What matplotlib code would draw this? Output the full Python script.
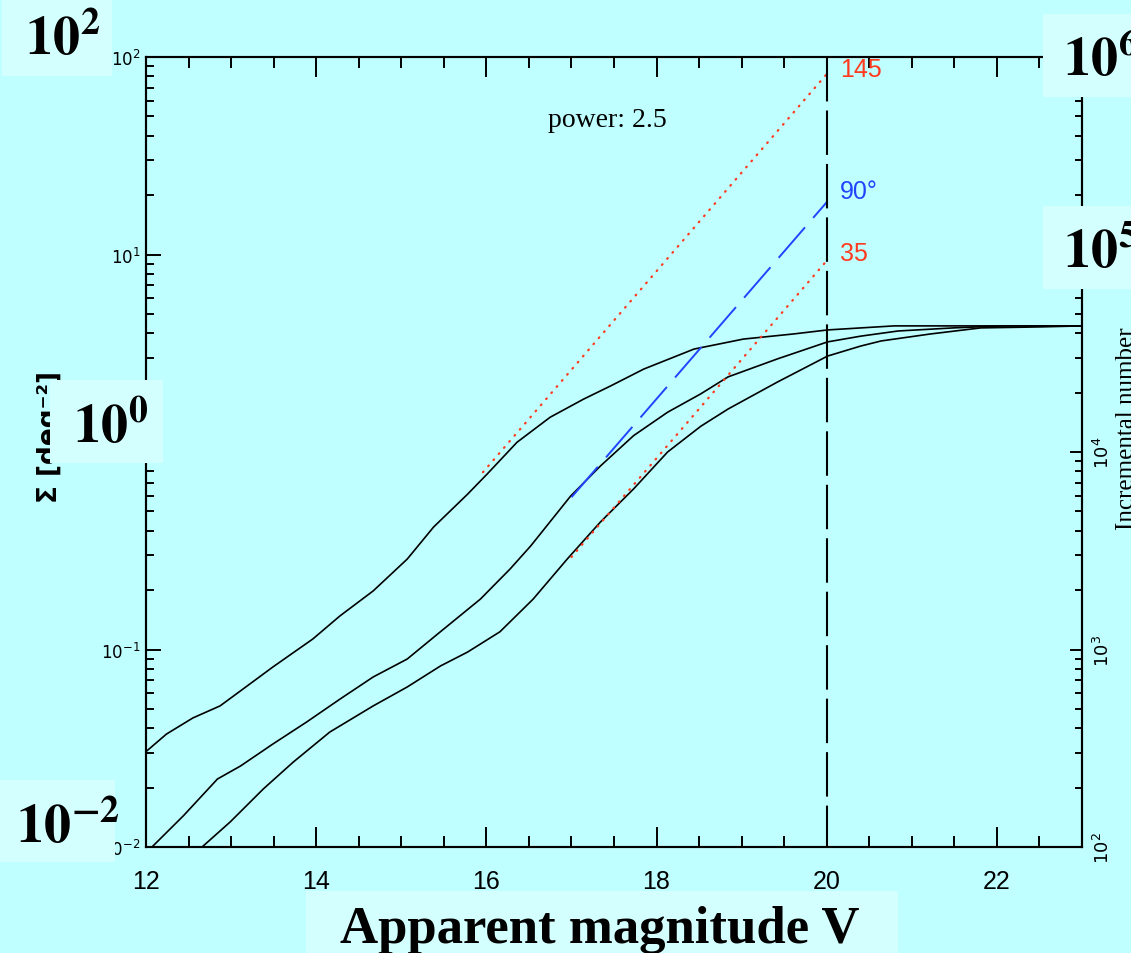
import matplotlib
matplotlib.use('Agg')
import matplotlib.pyplot as plt
from matplotlib.patches import Rectangle
from matplotlib.ticker import MultipleLocator, LogLocator, NullFormatter

# surface density curves (magnitude V, Sigma in deg^-2)
mag_a = [12.0, 12.24, 12.55, 12.87, 13.11, 13.49, 13.96, 14.28, 14.67, 15.07, 15.38, 15.78,
         16.01, 16.36, 16.75, 17.14, 17.46, 17.85, 18.44, 19.02, 19.61, 20.01, 20.79, 23.0]
sig_a = [0.0304, 0.0373, 0.0450, 0.0518, 0.0617, 0.0815, 0.113, 0.148, 0.198, 0.287, 0.417, 0.612,
         0.774, 1.12, 1.50, 1.85, 2.16, 2.63, 3.32, 3.73, 3.96, 4.15, 4.35, 4.35]

mag_b = [12.08, 12.44, 12.84, 13.11, 13.49, 13.89, 14.28, 14.67, 15.07, 15.46, 15.93, 16.28, 16.52,
         16.99, 17.34, 17.73, 18.13, 18.52, 18.84, 19.42, 20.01, 20.40, 20.84, 21.49, 22.05, 23.0]
sig_b = [0.0101, 0.0144, 0.0221, 0.0257, 0.0332, 0.0430, 0.0561, 0.0726, 0.0895, 0.123, 0.180, 0.256, 0.334,
         0.598, 0.849, 1.21, 1.59, 1.97, 2.40, 2.96, 3.61, 3.86, 4.10, 4.25, 4.35, 4.35]

mag_c = [12.67, 12.99, 13.38, 13.73, 14.16, 14.67, 15.07, 15.46, 15.78, 16.16, 16.55, 16.95, 17.34,
         17.73, 18.13, 18.52, 18.84, 19.42, 20.01, 20.40, 20.64, 21.22, 21.81, 22.52, 23.0]
sig_c = [0.0101, 0.0134, 0.0197, 0.0269, 0.0382, 0.0518, 0.0646, 0.0825, 0.0971, 0.123, 0.180, 0.287, 0.442,
         0.650, 1.0, 1.35, 1.65, 2.26, 3.06, 3.44, 3.65, 3.96, 4.25, 4.30, 4.35]

# power-law extrapolations
mag_145 = [15.96, 20.0]
sig_145 = [0.79, 82.0]
mag_90 = [17.0, 20.0]
sig_90 = [0.59, 18.4]
mag_35 = [17.0, 20.0]
sig_35 = [0.294, 9.3]

mag_limit = 20.0
xticks = [12, 14, 16, 18, 20, 22]

W, H = 1131, 954
bg = '#c0ffff'
boxc = '#d4ffff'
red = '#ff3a1e'
blue = '#2244ff'

plt.rcParams['lines.scale_dashes'] = False
plt.rcParams['mathtext.fontset'] = 'dejavusans'

fig = plt.figure(figsize=(W / 100, H / 100), dpi=100, facecolor=bg)
ax = fig.add_axes([146 / W, 1 - 848 / H, (1082 - 146) / W, (848 - 58) / H])
ax.set_facecolor(bg)

def fx(x):
    return x / W

def fy(y):
    return 1 - y / H

ax.plot(mag_a, sig_a, color='black', lw=1.2, solid_joinstyle='round')
ax.plot(mag_b, sig_b, color='black', lw=1.2, solid_joinstyle='round')
ax.plot(mag_c, sig_c, color='black', lw=1.2, solid_joinstyle='round')

ax.plot(mag_145, sig_145, color=red, lw=1.6, dashes=(0.6, 5.2), dash_capstyle='round')
ax.plot(mag_35, sig_35, color=red, lw=1.6, dashes=(0.6, 5.2), dash_capstyle='round')
ax.plot(mag_90, sig_90, color=blue, lw=1.4, dashes=(29, 9))
ax.plot([mag_limit, mag_limit], [100, 0.01], color='black', lw=1.5, dashes=(32, 6.5))

ax.set_yscale('log')
ax.set_xlim(12, 23)
ax.set_ylim(0.01, 100)
ax.xaxis.set_major_locator(MultipleLocator(2))
ax.xaxis.set_minor_locator(MultipleLocator(0.5))
ax.set_xticks(xticks)
ax.yaxis.set_major_locator(LogLocator(base=10))
ax.yaxis.set_minor_locator(LogLocator(base=10, subs=range(2, 10)))
ax.yaxis.set_minor_formatter(NullFormatter())

ax.tick_params(axis='x', which='both', direction='in', top=True, bottom=True, width=1.4)
ax.tick_params(axis='x', which='major', length=14.4, pad=16, labelsize=18)
ax.tick_params(axis='x', which='minor', length=7.9)
ax.tick_params(axis='y', which='both', direction='in', left=True, right=False, width=1.4)
ax.tick_params(axis='y', which='major', length=11, pad=4, labelsize=12)
ax.tick_params(axis='y', which='minor', length=5.8)
for lab in ax.get_xticklabels():
    lab.set_fontfamily('Liberation Sans')
for sp in ax.spines.values():
    sp.set_linewidth(1.5)

ax2 = ax.twinx()
ax2.set_yscale('log')
ax2.set_ylim(1e2, 1e6)
ax2.set_yticks([1e2, 1e3, 1e4, 1e5, 1e6])
ax2.yaxis.set_minor_locator(LogLocator(base=10, subs=range(2, 10)))
ax2.yaxis.set_minor_formatter(NullFormatter())
ax2.tick_params(axis='y', which='both', direction='in', width=1.4)
ax2.tick_params(axis='y', which='major', length=9, pad=8, labelsize=13, labelrotation=90)
ax2.tick_params(axis='y', which='minor', length=5)
for lab in ax2.get_yticklabels():
    lab.set_verticalalignment('center')
for sp in ax2.spines.values():
    sp.set_linewidth(1.5)

# annotations inside the plot
ax.text(16.72, 44.8, 'power: 2.5', fontsize=20, family='Liberation Serif', va='baseline')
ax.text(20.16, 87, '145', color=red, fontsize=18, family='Liberation Sans', va='center')
ax.text(20.16, 20.9, '90°', color=blue, fontsize=18, family='Liberation Sans', va='center')
ax.text(20.16, 10.2, '35', color=red, fontsize=18, family='Liberation Sans', va='center')

# axis titles of the original plot
fig.text(fx(50), fy(437), 'Σ [deg⁻²]', rotation=90, fontsize=19, fontweight='bold',
         family='DejaVu Sans', ha='center', va='center')
fig.text(fx(1116), fy(429), 'Incremental number', rotation=90, fontsize=18,
         family='Liberation Serif', ha='left', va='center')

# pasted labels on lighter boxes
boxes = [
    (2, 0, 112, 77, r'$\mathbf{10^{2}}$', 25, 55),
    (1043, 15, 1131, 98, r'$\mathbf{10^{6}}$', 1063, 76),
    (1043, 207, 1131, 290, r'$\mathbf{10^{5}}$', 1063, 267),
    (50, 381, 163, 464, r'$\mathbf{10^{0}}$', 73, 443),
    (0, 781, 115, 863, r'$\mathbf{10^{-2}}$', 16, 843),
]
for x0, y0, x1, y1, txt, tx, ty in boxes:
    fig.add_artist(Rectangle((fx(x0), fy(y1)), (x1 - x0) / W, (y1 - y0) / H,
                             transform=fig.transFigure, facecolor=boxc, edgecolor='none', zorder=5))
    fig.text(fx(tx), fy(ty), txt, fontsize=39, math_fontfamily='stix',
             ha='left', va='baseline', zorder=6)

fig.add_artist(Rectangle((fx(306), 0), (898 - 306) / W, (954 - 892) / H,
                         transform=fig.transFigure, facecolor=boxc, edgecolor='none', zorder=5))
fig.text(fx(340), fy(943), 'Apparent magnitude V', fontsize=38, fontweight='bold',
         family='Liberation Serif', ha='left', va='baseline', zorder=6)

fig.savefig('out.png', dpi=100, facecolor=bg)
